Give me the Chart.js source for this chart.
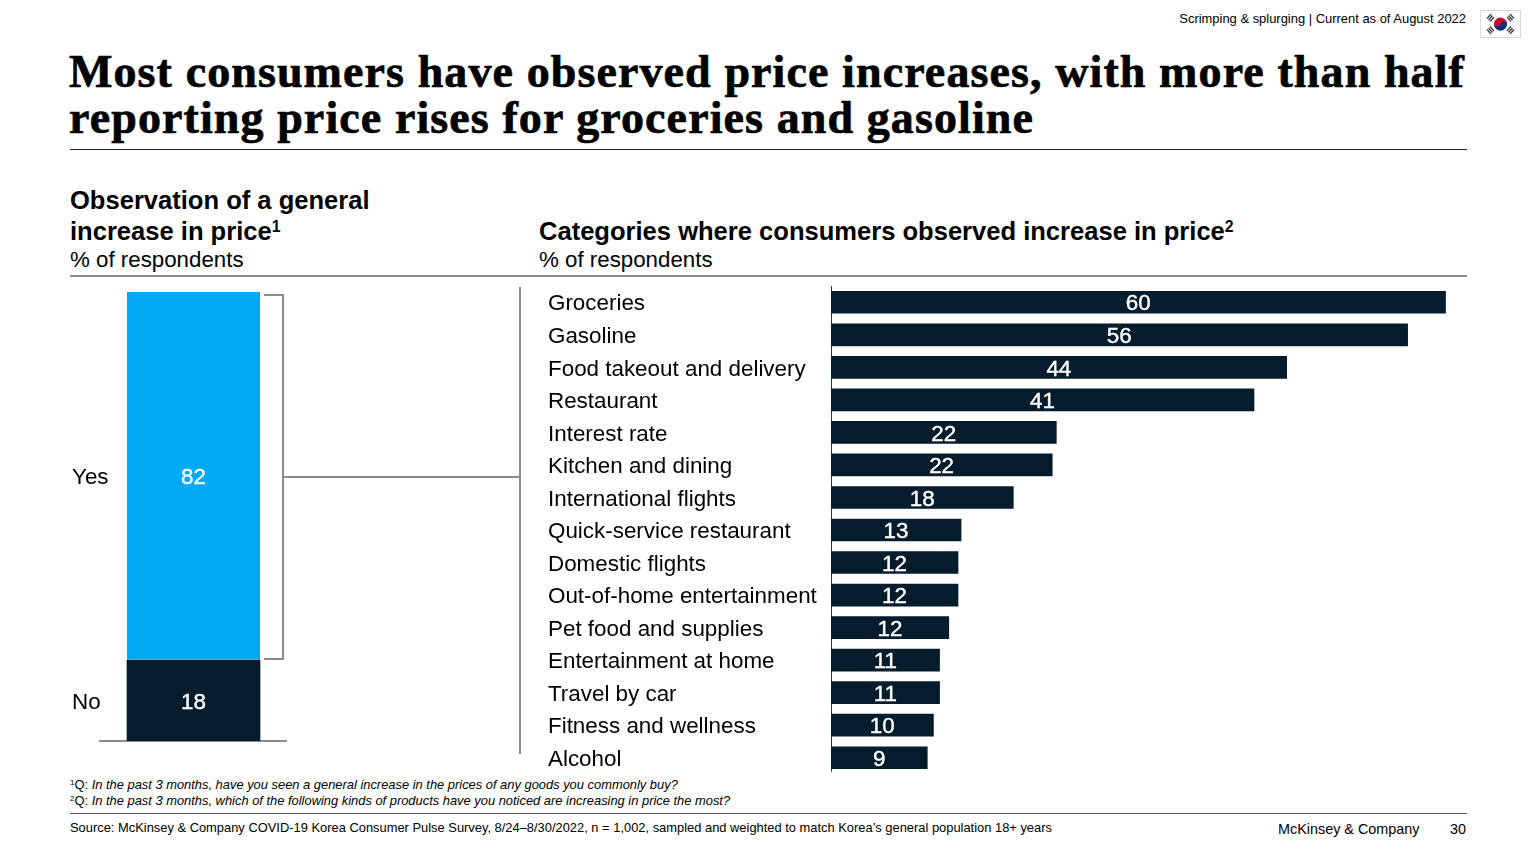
<!DOCTYPE html>
<html>
<head>
<meta charset="utf-8">
<title>Price increases</title>
<script src="https://cdn.jsdelivr.net/npm/chart.js@4/dist/chart.umd.min.js"></script>
<style>
html, body { margin: 0; padding: 0; background: #fff; width: 1536px; height: 864px; overflow: hidden; }
body { font-family: "Liberation Sans", Arial, sans-serif; color: #000; position: relative; }
.t { position: absolute; white-space: nowrap; line-height: 1; }
.r { position: absolute; }
sup { font-size: 62%; line-height: 0; vertical-align: baseline; position: relative; top: -0.5em; }
.head { font-weight: bold; font-size: 25.55px; }
.sub { font-size: 22.3px; }
.note { font-size: 12.9px; }
canvas { position: absolute; }
</style>
</head>
<body>
<div class="t" style="right:70px;top:13px;font-size:12.95px">Scrimping &amp; splurging | Current as of August 2022</div>
<svg class="r" style="left:1480px;top:10px" width="41" height="28" viewBox="0 0 41 28">
  <rect x="0.5" y="0.5" width="40" height="27" fill="#fff" stroke="#d8d8d8"/>
  <circle cx="20.5" cy="14" r="6.5" fill="#c60c30"/>
  <path d="M14.2 12.4a6.5 6.5 0 0 0 12.6 3.2a3.2 3.2 0 0 0-6.3-1.6a3.2 3.2 0 0 1-6.3-1.6z" fill="#003478"/>
  <g stroke="#444" stroke-width="1.3">
    <path d="M7 8.5l4-4.5M8.5 10l4-4.5M10 11.5l4-4.5"/>
    <path d="M27 7l4 4.5M28.5 5.5l4 4.5M30 4l4 4.5"/>
    <path d="M7 19.5l4 4.5M8.5 18l4 4.5M10 16.5l4 4.5"/>
    <path d="M27 21l4-4.5M28.5 22.5l4-4.5M30 24l4-4.5"/>
  </g>
</svg>

<div class="t" style="left:69px;top:48.5px;font-family:'Liberation Serif',serif;font-weight:bold;font-size:46px;line-height:46px;letter-spacing:1.1px;-webkit-text-stroke:0.7px #000">Most consumers have observed price increases, with more than half<br>reporting price rises for groceries and gasoline</div>
<div class="r" style="left:70px;top:149px;width:1397px;height:1px;background:#222"></div>

<div class="t head" style="left:70px;top:188px">Observation of a general</div>
<div class="t head" style="left:70px;top:219px">increase in price<sup>1</sup></div>
<div class="t sub" style="left:70px;top:249px">% of respondents</div>
<div class="t head" style="left:539px;top:219px">Categories where consumers observed increase in price<sup>2</sup></div>
<div class="t sub" style="left:539px;top:249px">% of respondents</div>
<div class="r" style="left:70px;top:275px;width:1397px;height:2px;background:#8c8c8c"></div>

<!-- bracket and connector between the two charts -->
<div class="r" style="left:264px;top:294px;width:18px;height:362px;border:2px solid #8c8c8c;border-left:0"></div>
<div class="r" style="left:284px;top:476px;width:236px;height:2px;background:#8c8c8c"></div>
<div class="r" style="left:519px;top:287px;width:2px;height:467px;background:#8c8c8c"></div>

<canvas id="splitChart" style="left:70px;top:292px;width:217px;height:451px"></canvas>
<canvas id="categoryChart" style="left:548px;top:286px;width:918px;height:488px"></canvas>

<div class="t note" style="left:70px;top:779px"><sup>1</sup>Q: <i>In the past 3 months, have you seen a general increase in the prices of any goods you commonly buy?</i></div>
<div class="t note" style="left:70px;top:795px"><sup>2</sup>Q: <i>In the past 3 months, which of the following kinds of products have you noticed are increasing in price the most?</i></div>
<div class="r" style="left:70px;top:813px;width:1397px;height:1px;background:#555"></div>
<div class="t note" style="left:70px;top:822px">Source: McKinsey &amp; Company COVID-19 Korea Consumer Pulse Survey, 8/24–8/30/2022, n = 1,002, sampled and weighted to match Korea’s general population 18+ years</div>
<div class="t" style="left:1278px;top:822px;font-size:14.4px">McKinsey &amp; Company</div>
<div class="t" style="right:70px;top:822px;font-size:14.4px">30</div>

<script>
var FONT = '"Liberation Sans", Arial, sans-serif';
var NAVY = "#051c2c";
var BLUE = "#00a9f4";

var splitNames = ["No", "Yes"];
var splitValues = [18, 82];
var splitColors = [NAVY, BLUE];

var categories = ["Groceries", "Gasoline", "Food takeout and delivery", "Restaurant", "Interest rate",
    "Kitchen and dining", "International flights", "Quick-service restaurant", "Domestic flights",
    "Out-of-home entertainment", "Pet food and supplies", "Entertainment at home", "Travel by car",
    "Fitness and wellness", "Alcohol"];
// bar lengths, the printed numbers are rounded from these
var categoryValues = [60, 56.3, 44.49, 41.3, 22, 21.6, 17.8, 12.7, 12.4, 12.4, 11.5, 10.6, 10.6, 10, 9.4];

// value labels in the middle of each bar, and the Yes/No names left of the stack
var barLabels = {
    id: "barLabels",
    afterDatasetsDraw: function(chart) {
        var ctx = chart.ctx;
        ctx.save();
        ctx.textAlign = "center";
        ctx.textBaseline = "middle";
        ctx.font = "22.4px " + FONT;
        ctx.lineWidth = 0.4;
        ctx.strokeStyle = "#fff";
        chart.data.datasets.forEach(function(dataset, d) {
            chart.getDatasetMeta(d).data.forEach(function(bar, i) {
                var c = bar.getCenterPoint();
                ctx.fillStyle = "#fff";
                ctx.fillText(Math.round(dataset.data[i]), c.x, c.y + 2);
                ctx.strokeText(Math.round(dataset.data[i]), c.x, c.y + 2);
                if (chart.canvas.id === "splitChart") {
                    ctx.save();
                    ctx.textAlign = "left";
                    ctx.fillStyle = "#000";
                    ctx.fillText(dataset.label, 2, c.y + 2);
                    ctx.restore();
                }
            });
        });
        ctx.restore();
    }
};

// category axis line stops a little short of the last slot
var axisLine = {
    id: "axisLine",
    beforeDatasetsDraw: function(chart) {
        var ctx = chart.ctx;
        var y = chart.scales.y;
        ctx.save();
        ctx.strokeStyle = "#333";
        ctx.lineWidth = 1;
        ctx.beginPath();
        ctx.moveTo(chart.chartArea.left + 0.5, y.top);
        ctx.lineTo(chart.chartArea.left + 0.5, y.getPixelForValue(categories.length - 1) + 14);
        ctx.stroke();
        ctx.restore();
    }
};

new Chart("splitChart", {
    type: "bar",
    data: {
        labels: ["Total"],
        datasets: splitNames.map(function(name, i) {
            return {
                label: name,
                data: [splitValues[i]],
                backgroundColor: splitColors[i],
                borderColor: "#fff",
                borderWidth: i === 1 ? { bottom: 1 } : 0,
                borderSkipped: false,
                barThickness: 133
            };
        })
    },
    options: {
        responsive: false,
        animation: false,
        devicePixelRatio: 1,
        layout: { padding: { bottom: 2 } },
        plugins: { legend: { display: false }, tooltip: { enabled: false } },
        scales: {
            x: {
                stacked: true,
                ticks: { display: false },
                grid: { display: false },
                border: { color: "#8c8c8c", width: 2 },
                afterFit: function(axis) { axis.height = 0; }
            },
            y: {
                stacked: true,
                min: 0,
                max: 100,
                ticks: { display: false },
                grid: { display: false },
                border: { display: false },
                afterFit: function(axis) { axis.width = 30; }
            }
        }
    },
    plugins: [barLabels]
});

new Chart("categoryChart", {
    type: "bar",
    data: {
        labels: categories,
        datasets: [{
            data: categoryValues,
            backgroundColor: NAVY,
            barThickness: 22
        }]
    },
    options: {
        indexAxis: "y",
        responsive: false,
        animation: false,
        devicePixelRatio: 1,
        plugins: { legend: { display: false }, tooltip: { enabled: false } },
        scales: {
            x: {
                display: false,
                min: 0,
                max: 62
            },
            y: {
                ticks: {
                    crossAlign: "far",
                    color: "#000",
                    autoSkip: false,
                    padding: 0,
                    labelOffset: 2,
                    font: { family: FONT, size: 22.4 }
                },
                grid: { display: false },
                border: { display: false },
                afterFit: function(axis) {
                    axis.width = 283;
                    axis.paddingTop = 0;
                    axis.paddingBottom = 0;
                }
            }
        }
    },
    plugins: [barLabels, axisLine]
});
</script>
</body>
</html>
